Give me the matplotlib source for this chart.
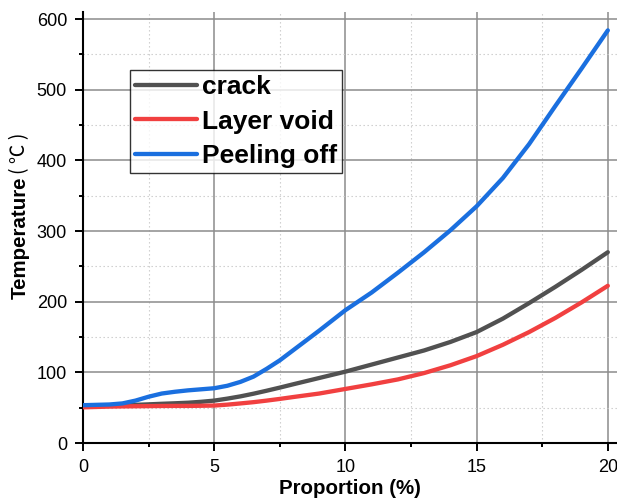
import matplotlib
matplotlib.use("Agg")
import matplotlib.pyplot as plt
from matplotlib.ticker import MultipleLocator

plt.rcParams['font.family'] = ['Liberation Sans', 'Noto Sans CJK SC', 'DejaVu Sans']

# Proportion of defect (%) and resulting temperature (°C)
proportion = [0, 0.5, 1, 1.5, 2, 2.5, 3, 3.5, 4, 4.5, 5, 5.5, 6, 6.5, 7, 7.5, 8,
              9, 10, 11, 12, 13, 14, 15, 16, 17, 18, 19, 20]
crack = [52.5, 52.7, 53, 53.5, 54, 54.7, 55.5, 56.2, 57, 58.3, 60, 62.8, 66, 69.8, 74, 78.4, 83,
         92, 101, 111, 121, 131, 143, 157, 176, 198, 221, 245, 270]
layer_void = [50.5, 51, 51.5, 51.8, 52, 52.2, 52.4, 52.5, 52.5, 52.7, 53, 54.3, 56, 57.8, 60, 62.4, 65,
              70, 76.5, 83, 90, 99, 110, 123, 139, 157, 177, 199, 222.5]
peeling_off = [53.5, 54, 54.5, 56, 60, 65.5, 70, 72.5, 74.5, 76, 77.5, 81, 86.5, 94, 105, 117, 131,
               159, 188, 213, 241, 270, 301, 335, 375, 423, 477, 530, 584]

series_labels = ["crack", "Layer void", "Peeling off"]
series_colors = ["#515151", "#F14040", "#1A6FDF"]

W, H = 617, 501
fig = plt.figure(figsize=(W / 100, H / 100), dpi=100)
ax = fig.add_axes([83 / W, 1 - 443 / H, 1 - 83 / W, (443 - 12) / H])

for ys, lab, col in zip([crack, layer_void, peeling_off], series_labels, series_colors):
    ax.plot(proportion, ys, color=col, lw=3.1, label=lab, solid_capstyle='round',
            solid_joinstyle='round', zorder=3)

ax.set_xlim(0, 20.35)
ax.set_ylim(0, 610)
ax.xaxis.set_major_locator(MultipleLocator(5))
ax.xaxis.set_minor_locator(MultipleLocator(2.5))
ax.yaxis.set_major_locator(MultipleLocator(100))
ax.yaxis.set_minor_locator(MultipleLocator(50))

ax.grid(which='major', color='#8c8c8c', lw=1.1, ls='-', zorder=0)
ax.grid(which='minor', color='#c8c8c8', lw=0.8, ls=(0, (1.2, 2.4)), zorder=0)

for s in ['top', 'right']:
    ax.spines[s].set_visible(False)
for s in ['left', 'bottom']:
    ax.spines[s].set_linewidth(1.5)
    ax.spines[s].set_color('black')

ax.tick_params(which='major', direction='out', length=6, width=1.4, labelsize=13, pad=5.5)
ax.tick_params(which='minor', direction='out', length=3, width=1.4)

ax.set_xlabel("Proportion (%)", fontsize=14.8, fontweight='bold', labelpad=2)

leg = ax.legend(loc='upper left', bbox_to_anchor=(130 / W, 1 - 70 / H),
                bbox_transform=fig.transFigure, borderaxespad=0,
                prop={'weight': 'bold', 'size': 19}, frameon=True, fancybox=False,
                edgecolor='black', borderpad=0.2, handlelength=2.35,
                handletextpad=0.18, labelspacing=0.39)
leg.get_frame().set_linewidth(1.0)
leg.set_zorder(5)

# y-axis title: bold word followed by the unit in regular weight
t1 = fig.text(20 / W, 1 - 299 / H, "Temperature", rotation=90, fontsize=14.8,
              fontweight='bold', ha='center', va='bottom')
fig.canvas.draw()
bb = t1.get_window_extent()
fig.text(20 / W, (bb.y1 + 3) / H, "( ℃ )", rotation=90, fontsize=14,
         family=['Noto Sans CJK SC', 'DejaVu Sans'], ha='center', va='bottom')

fig.savefig("out.png", dpi=100)
